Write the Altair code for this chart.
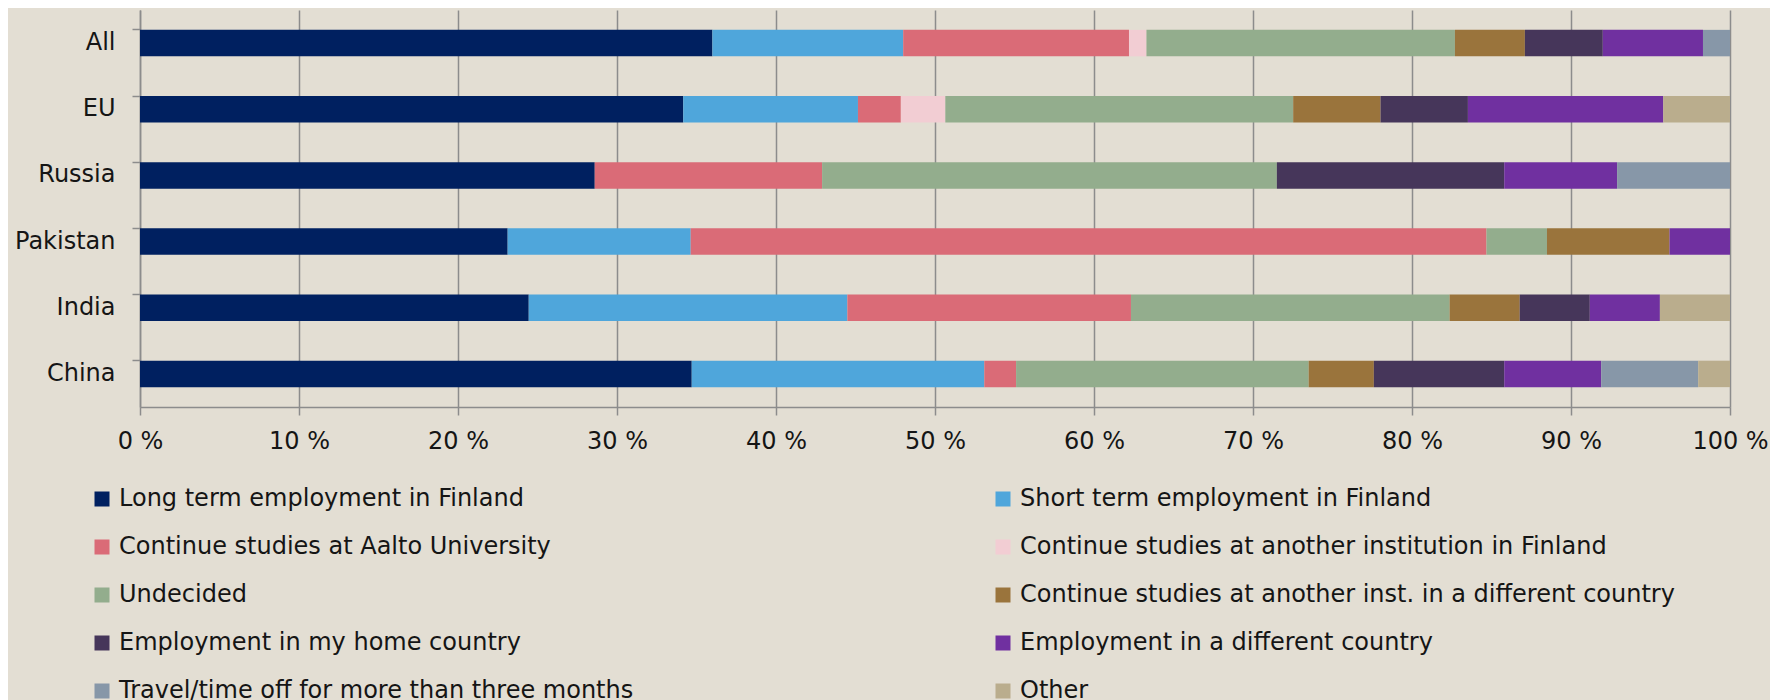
import altair as alt
import pandas as pd

groups = ["All", "EU", "Russia", "Pakistan", "India", "China"]

series = [
    "Long term employment in Finland",
    "Short term employment in Finland",
    "Continue studies at Aalto University",
    "Continue studies at another institution in Finland",
    "Undecided",
    "Continue studies at another inst. in a different country",
    "Employment in my home country",
    "Employment in a different country",
    "Travel/time off for more than three months",
    "Other",
]

colors = ["#002060", "#4FA6DB", "#DA6B77", "#F2CDD3", "#93AD8D",
          "#9A743C", "#46365A", "#7030A0", "#8797A8", "#BAAD8D"]

# percentages per group, in series order
v_all = [36.0, 12.0, 14.2, 1.1, 19.4, 4.4, 4.9, 6.3, 1.7, 0.0]
v_eu = [34.2, 11.0, 2.7, 2.8, 21.9, 5.5, 5.5, 12.3, 0.0, 4.2]
v_russia = [28.6, 0.0, 14.3, 0.0, 28.6, 0.0, 14.3, 7.1, 7.1, 0.0]
v_pakistan = [23.1, 11.5, 50.0, 0.0, 3.8, 7.7, 0.0, 3.8, 0.0, 0.0]
v_india = [24.4, 20.0, 17.8, 0.0, 20.0, 4.4, 4.4, 4.4, 0.0, 4.4]
v_china = [34.7, 18.4, 2.0, 0.0, 18.4, 4.1, 8.2, 6.1, 6.1, 2.0]

values = [v_all, v_eu, v_russia, v_pakistan, v_india, v_china]

rows = []
for g, vals in zip(groups, values):
    for i, (s, v) in enumerate(zip(series, vals)):
        rows.append({"group": g, "series": s, "idx": i, "value": v})
df = pd.DataFrame(rows)

# legend fills column by column: interleave so it reads row by row
legend_order = series[0::2] + series[1::2]
legend_colors = colors[0::2] + colors[1::2]

FONT = "DejaVu Sans"
GRID = "#8c8c8c"
TEXT = "#151515"
FS = 24

chart = alt.Chart(df).mark_bar().encode(
    y=alt.Y("group:N", sort=groups, title=None,
            scale=alt.Scale(paddingInner=0.6, paddingOuter=0.3),
            axis=alt.Axis(bandPosition=0, tickSize=8, tickColor=GRID, tickWidth=1.5,
                          domainColor=GRID, domainWidth=1.5, labelPadding=17,
                          labelFontSize=FS, labelFont=FONT, labelColor=TEXT, grid=False)),
    x=alt.X("value:Q", stack="normalize", title=None,
            scale=alt.Scale(domain=[0, 1]),
            axis=alt.Axis(values=[i / 10 for i in range(11)],
                          labelExpr="format(datum.value*100, 'd') + ' %'",
                          tickSize=8, tickColor=GRID, tickWidth=1.5,
                          domainColor=GRID, domainWidth=1.5,
                          grid=True, gridColor=GRID, gridWidth=1.5,
                          labelPadding=14, labelFontSize=FS, labelFont=FONT,
                          labelColor=TEXT, labelFlush=False)),
    color=alt.Color("series:N",
                    scale=alt.Scale(domain=legend_order, range=legend_colors),
                    legend=alt.Legend(title=None, orient="none", legendX=-50, legendY=477,
                                      columns=2, columnPadding=357, rowPadding=24,
                                      symbolType="square", symbolSize=225,
                                      symbolStrokeWidth=0, labelOffset=5,
                                      labelFontSize=FS, labelFont=FONT,
                                      labelColor=TEXT, labelLimit=1000, padding=0)),
    order=alt.Order("idx:Q"),
).properties(
    width=1590,
    height=397,
    background="#E3DED3",
    padding={"left": 132, "top": 2, "right": 40, "bottom": 300},
    autosize=alt.AutoSizeParams(type="none"),
).configure_view(stroke=None)

chart.save("out.html", embed_options={"renderer": "svg", "actions": False})
